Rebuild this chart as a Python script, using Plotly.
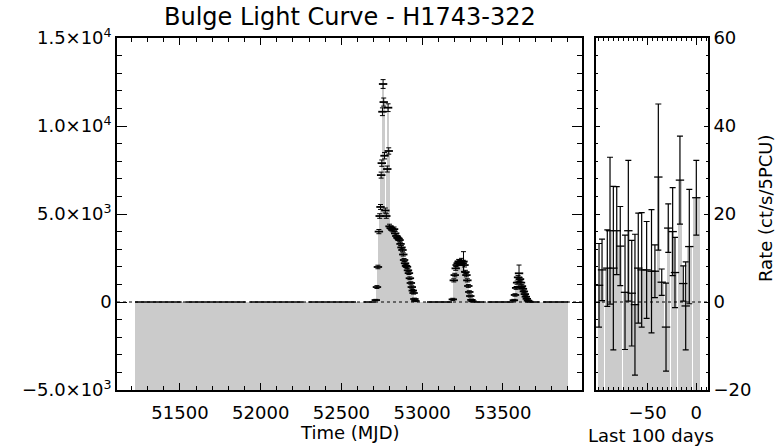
import numpy as np
import plotly.graph_objects as go

# ---------------- data ----------------
# quiescent monitoring segments of the main light curve (rate ~ 0)
quiet_start = [51222, 51535, 51935, 52295, 52640, 53030, 53320, 53405, 53665, 53750]
quiet_end = [51510, 51905, 52265, 52590, 52712, 53185, 53385, 53565, 53725, 53905]

# outburst 1 (2003)
ob1_mjd = [52713, 52720, 52726, 52732, 52737, 52742, 52746, 52750, 52754, 52758,
           52762, 52767, 52772, 52778, 52784, 52789, 52793, 52798, 52805, 52812,
           52819, 52826, 52833, 52840, 52847, 52854, 52860, 52866, 52872, 52878,
           52883, 52888, 52894, 52900, 52906, 52912, 52918, 52924, 52930, 52936,
           52942, 52947, 52952, 52958]
ob1_rate = [110, 850, 1990, 4000, 4885, 5400, 7210, 7890, 10810, 12386,
            11360, 8310, 5200, 4885, 7555, 11040, 8580, 4300, 4200, 4150,
            4100, 4140, 3900, 3750, 3650, 3600, 3520, 3300, 3100, 2955,
            2700, 2385, 2200, 2050, 2000, 1800, 1640, 1350, 1080, 850,
            650, 510, 170, 60]
ob1_err = [40, 80, 100, 120, 130, 140, 170, 180, 220, 250,
           230, 180, 140, 130, 170, 220, 180, 120, 120, 120,
           120, 120, 110, 110, 110, 110, 100, 100, 100, 100,
           90, 90, 90, 90, 90, 80, 80, 80, 70, 70,
           60, 60, 50, 40]

# outburst 2 (2004)
ob2_mjd = [53190, 53196, 53202, 53208, 53214, 53220, 53226, 53232, 53238, 53244,
           53250, 53256, 53262, 53268, 53274, 53280, 53286, 53292, 53298, 53305, 53312]
ob2_rate = [150, 1230, 1530, 1910, 2100, 2200, 2300, 2270, 2250, 2350,
            2200, 2300, 2100, 1700, 1530, 1230, 910, 570, 340, 120, 40]
ob2_err = [60, 90, 100, 110, 110, 120, 120, 120, 120, 130,
           120, 560, 110, 100, 100, 90, 80, 70, 60, 50, 40]

# outburst 3 (2005)
ob3_mjd = [53568, 53575, 53582, 53588, 53594, 53600, 53606, 53612, 53618, 53624,
           53630, 53636, 53642, 53648, 53655, 53662]
ob3_rate = [100, 400, 800, 1100, 1400, 1630, 1300, 1100, 900, 750,
            600, 450, 300, 180, 80, 30]
ob3_err = [50, 70, 80, 90, 100, 470, 90, 90, 80, 80, 70, 60, 60, 50, 40, 40]

# last 100 days panel
last_day = [-99.9, -96.8, -91.4, -88.6, -85.2, -81.7, -78.1, -73.2, -69.8, -66.3,
            -63.0, -59.6, -56.1, -51.0, -46.0, -42.5, -39.0, -35.5, -31.1, -28.8,
            -24.3, -21.9, -16.8, -13.4, -10.9, -7.2, 0.0]
last_rate = [3.8, 7.3, 7.7, 16.2, 7.7, 16.2, 12.7, 2.2, 16.2, 2.0,
             -0.6, 7.7, 7.3, 7.3, 7.0, 7.0, 28.4, 4.5, -5.7, 16.8,
             16.0, 6.7, 27.7, 4.2, -0.9, 12.6, 23.7]
last_err = [9.5, 7.0, 8.7, 16.7, 18.6, 10.0, 9.0, 13.0, 16.0, 12.0,
            16.0, 12.5, 13.0, 11.0, 14.0, 6.0, 16.6, 3.0, 10.0, 5.5,
            10.0, 8.0, 10.0, 4.0, 10.0, 13.0, 8.5]

left_ytickvals = [-5000, 0, 5000, 10000, 15000]
left_yticktext = ["\u22125.0\u00d710<sup>3</sup>", "0", "5.0\u00d710<sup>3</sup>",
                  "1.0\u00d710<sup>4</sup>", "1.5\u00d710<sup>4</sup>"]
left_xtickvals = [51500, 52000, 52500, 53000, 53500]
left_xticktext = ["51500", "52000", "52500", "53000", "53500"]
right_xtickvals = [-50, 0]
right_xticktext = ["\u221250", "0"]
right_ytickvals = [-20, 0, 20, 40, 60]
right_yticktext = ["\u221220", "0", "20", "40", "60"]

# ---------------- figure ----------------
W, H = 784, 446
LEFT_YMIN, LEFT_YMAX = -5000, 15000
RIGHT_YMIN, RIGHT_YMAX = -20, 60
GRAY = "#cbcbcb"
FONT = "DejaVu Sans"

fig = go.Figure()

# baseline gray band over the whole monitoring span
mon_a, mon_b = min(quiet_start), max(quiet_end)
fig.add_trace(go.Bar(x=[(mon_a + mon_b) / 2], y=[0 - LEFT_YMIN], base=LEFT_YMIN,
                     width=[mon_b - mon_a], marker=dict(color=GRAY, line=dict(width=0)),
                     xaxis="x", yaxis="y", showlegend=False, hoverinfo="skip"))

for t, r, e in [(ob1_mjd, ob1_rate, ob1_err), (ob2_mjd, ob2_rate, ob2_err),
                (ob3_mjd, ob3_rate, ob3_err)]:
    t = np.array(t, float)
    r = np.array(r, float)
    w = np.gradient(t)
    fig.add_trace(go.Bar(x=t, y=r - LEFT_YMIN, base=LEFT_YMIN, width=w,
                         marker=dict(color=GRAY, line=dict(width=0)),
                         xaxis="x", yaxis="y", showlegend=False, hoverinfo="skip"))

# zero-level segments of the quiescent data
zx, zy = [], []
for a, b in zip(quiet_start, quiet_end):
    zx += [a, b, None]
    zy += [0, 0, None]
fig.add_trace(go.Scatter(x=zx, y=zy, mode="lines", line=dict(color="black", width=1.6),
                         xaxis="x", yaxis="y", showlegend=False, hoverinfo="skip"))

for t, r, e in [(ob1_mjd, ob1_rate, ob1_err), (ob2_mjd, ob2_rate, ob2_err),
                (ob3_mjd, ob3_rate, ob3_err)]:
    fig.add_trace(go.Scatter(x=t, y=r, mode="markers",
                             marker=dict(symbol="line-ew", size=6,
                                         line=dict(color="black", width=1.8)),
                             error_y=dict(type="data", array=e, color="black",
                                          thickness=1, width=2.5),
                             xaxis="x", yaxis="y", showlegend=False, hoverinfo="skip"))

# right panel
ld = np.array(last_day, float)
lr = np.array(last_rate, float)
fig.add_trace(go.Bar(x=ld, y=lr - RIGHT_YMIN, base=RIGHT_YMIN, width=np.gradient(ld),
                     marker=dict(color=GRAY, line=dict(width=0)),
                     xaxis="x2", yaxis="y2", showlegend=False, hoverinfo="skip"))
fig.add_trace(go.Scatter(x=ld, y=lr, mode="markers",
                         marker=dict(symbol="line-ew", size=6,
                                     line=dict(color="black", width=1.3)),
                         error_y=dict(type="data", array=last_err, color="black",
                                      thickness=1.2, width=3),
                         xaxis="x2", yaxis="y2", showlegend=False, hoverinfo="skip"))

# dotted zero lines
for xr, yr in [("x domain", "y"), ("x2 domain", "y2")]:
    fig.add_shape(type="line", xref=xr, yref=yr, x0=0, x1=1, y0=0, y1=0,
                  line=dict(color="black", width=1, dash="dot"), layer="above")

tickfont = dict(family=FONT, size=18, color="black")
common = dict(showline=True, linecolor="black", linewidth=1.6, mirror="allticks",
              ticks="inside", tickcolor="black", tickwidth=1, showgrid=False,
              zeroline=False, tickfont=tickfont, automargin=False)

ydom = [56 / H, 408 / H]
fig.update_layout(
    template="none",
    width=W, height=H, margin=dict(l=0, r=0, t=0, b=0, pad=0, autoexpand=False),
    paper_bgcolor="white", plot_bgcolor="white", barmode="overlay", bargap=0,
    showlegend=False,
    xaxis=dict(domain=[117 / W, 582 / W], anchor="y", range=[51110, 53990],
               tickmode="array", tickvals=left_xtickvals, ticktext=left_xticktext,
               ticklen=7, ticklabelstandoff=6,
               minor=dict(ticks="inside", tickmode="linear", tick0=51500, dtick=100,
                          ticklen=4, tickcolor="black", showgrid=False), **common),
    yaxis=dict(domain=ydom, anchor="x", range=[LEFT_YMIN, LEFT_YMAX],
               tickmode="array", tickvals=left_ytickvals, ticktext=left_yticktext,
               ticklen=10,
               minor=dict(ticks="inside", tickmode="linear", tick0=0, dtick=1000,
                          ticklen=5, tickcolor="black", showgrid=False), **common),
    xaxis2=dict(domain=[596 / W, 708 / W], anchor="y2", range=[-103, 12],
                tickmode="array", tickvals=right_xtickvals, ticktext=right_xticktext,
                ticklen=7, ticklabelstandoff=6,
                minor=dict(ticks="inside", tickmode="linear", tick0=0, dtick=5,
                           ticklen=3, tickcolor="black", showgrid=False), **common),
    yaxis2=dict(domain=ydom, anchor="x2", side="right", range=[RIGHT_YMIN, RIGHT_YMAX],
                tickmode="array", tickvals=right_ytickvals, ticktext=right_yticktext,
                ticklen=4,
                minor=dict(ticks="inside", tickmode="linear", tick0=0, dtick=4,
                           ticklen=2, tickcolor="black", showgrid=False), **common),
)

def ann(text, x, y, size, angle=0):
    fig.add_annotation(text=text, x=x / W, y=1 - y / H, xref="paper", yref="paper",
                       showarrow=False, xanchor="center", yanchor="middle",
                       textangle=angle, font=dict(family=FONT, size=size, color="black"))

ann("Bulge Light Curve - H1743-322", 349.5, 17, 24)
ann("Time (MJD)", 349.5, 432, 18)
ann("Last 100 days", 651, 435, 18)
ann("Rate (ct/s/5PCU)", 765, 208, 18, angle=-90)

fig.write_html("out.html")
